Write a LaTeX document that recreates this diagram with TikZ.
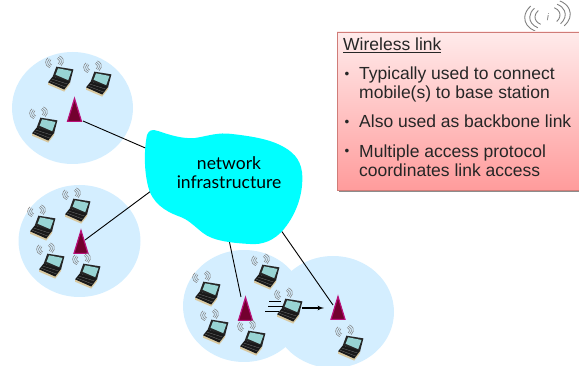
\documentclass[tikz,border=0pt]{standalone}
\usepackage{fontspec}
\setmainfont{Liberation Sans}
\newfontfamily\cloudfont{Lato}
\usetikzlibrary{arrows}
\usetikzlibrary{positioning}
\definecolor{cellblue}{HTML}{D4EEFF}
\definecolor{wavegray}{HTML}{808080}
\definecolor{cloudcyan}{HTML}{00FFFF}
\definecolor{towerfill}{HTML}{73002E}
\definecolor{toweredge}{HTML}{B8107A}
\definecolor{screenteal}{HTML}{98D4D4}
\definecolor{lapcream}{HTML}{D8C8A0}
\definecolor{boxtop}{HTML}{FFEBEB}
\definecolor{boxbottom}{HTML}{FF9C9C}
\definecolor{boxedge}{HTML}{D07C78}
\tikzset{cell/.style = {fill = cellblue, draw = none}}
\tikzset{link/.style = {black, line width = 0.9}}
\tikzset{wavepen/.style = {wavegray, line width = 0.55}}
\tikzset{boxtext/.style = {inner sep = 0, anchor = base west, align = left, font = \fontsize{17.5}{19.6}\selectfont, text = black!85}}
\tikzset{bul/.style = {inner sep = 0, anchor = base west, font = \fontsize{13.5}{13.5}\selectfont, text = black!85}}
\tikzset{waves/.pic = {
    \foreach \r in {0.55, 0.78, 1} {
        \draw [wavepen] (0, 0) ++ (130:{9*\r} and {6.5*\r}) arc [start angle = 130, end angle = 230, x radius = 9*\r, y radius = 6.5*\r];
        \draw [wavepen] (0, 0) ++ (50:{9*\r} and {6.5*\r}) arc [start angle = 50, end angle = -50, x radius = 9*\r, y radius = 6.5*\r];
    }
}}
\tikzset{laptop/.pic = {
    \pic [rotate = 10] at (-6, -15) {waves};
    \fill [black!85] (-4.3, -10.5) -- (11.5, -8) -- (8.3, 4.3) -- (-7.7, -1.3) -- cycle;
    \fill [screenteal] (-2.7, -9) -- (9.7, -6.5) -- (6.7, 2) -- (-5, -3) -- cycle;
    \fill [lapcream] (-12, 4) -- (3, 10.5) -- (8.5, 3.5) -- (8.5, 5.5) -- (3, 12.6) -- (-12, 6.2) -- cycle;
    \fill [black!90] (-7.7, -1.3) -- (8.5, 3.5) -- (3, 10.7) -- (-12, 4) -- cycle;
    \draw [black!55, line width = 0.3] (-8.5, 1) -- (6, 5.6) (-10, 3) -- (4.4, 8.4);
}}
\tikzset{tower/.pic = {
    \fill [draw = toweredge, line width = 1.2, fill = towerfill] (0, -23.5) -- (7, -0.6) -- (-7, -0.6) -- cycle;
}}
\begin{document}
\begin{tikzpicture}[x = 1pt, y = -1pt]
    \useasboundingbox (0, 0) rectangle (579, 366);

    \fill [cell] (72.5, 108) ellipse [x radius = 60.5, y radius = 56];
    \fill [cell] (79.5, 241) ellipse [x radius = 61, y radius = 56];
    \fill [cell] (244, 306) ellipse [x radius = 61, y radius = 56];
    \fill [cell] (333, 312) ellipse [x radius = 61, y radius = 56];

    \coordinate (tower1) at (74.5, 122);
    \coordinate (tower2) at (81, 254);
    \coordinate (tower3) at (245.5, 321);
    \coordinate (tower4) at (338, 320);
    \coordinate (end1) at (83, 121);
    \coordinate (end2) at (85, 240);
    \coordinate (end3) at (241, 297);
    \coordinate (end4) at (333, 305);
    \coordinate (cloud1) at (150, 150);
    \coordinate (cloud2) at (155, 188);
    \coordinate (cloud3) at (228, 235);
    \coordinate (cloud4) at (278, 226);

    \draw [link] (end1) -- (cloud1);
    \draw [link] (end2) -- (cloud2);
    \draw [link] (end3) -- (cloud3);
    \draw [link] (end4) -- (cloud4);

    \fill [cloudcyan] (147, 135) .. controls (149, 130) and (152, 129) .. (158, 131)
        .. controls (170, 135) and (182, 139) .. (195, 138)
        .. controls (208, 136) and (218, 132) .. (232, 134)
        .. controls (250, 136) and (268, 139) .. (280, 145)
        .. controls (292, 151) and (300, 158) .. (302, 172)
        .. controls (304, 192) and (297, 213) .. (284, 229)
        .. controls (274, 241) and (262, 245) .. (250, 244)
        .. controls (232, 243) and (213, 241) .. (203, 233)
        .. controls (194, 226) and (188, 219) .. (178, 216)
        .. controls (165, 211) and (152, 203) .. (148, 186)
        .. controls (144, 170) and (144, 150) .. (147, 135) -- cycle;
    \node (cloudtext) [align = center, inner sep = 0, font = \cloudfont\fontsize{17.5}{19}\selectfont] at (229, 172.5) {network\\infrastructure};

    \pic at (tower1) {tower};
    \pic at (tower2) {tower};
    \pic at (tower3) {tower};
    \pic at (tower4) {tower};

    \foreach \x/\y in {61/78, 99/83, 45/129, 78/210, 43/227, 52/265, 88/275, 208/293, 267/276, 216/331, 253/342, 290/310, 351/347} {
        \pic [scale = 1.08] at (\x, \y) {laptop};
    }

    \coordinate (lap) at (302, 308);
    \coordinate (ap) at (324, 308);
    \draw [-latex', line width = 1.2] (lap) -- (ap);
    \coordinate (m1a) at (269, 301);
    \coordinate (m1b) at (281, 301);
    \coordinate (m2a) at (268, 306);
    \coordinate (m2b) at (283, 306);
    \coordinate (m3a) at (265, 311);
    \coordinate (m3b) at (279, 311);
    \draw [line width = 0.7] (m1a) -- (m1b);
    \draw [line width = 0.7] (m2a) -- (m2b);
    \draw [line width = 0.7] (m3a) -- (m3b);

    \pic [scale = 2.55, rotate = 10, wavepen/.style = {wavegray, line width = 0.9}] at (547.5, 16) {waves};
    \node (wifi) [inner sep = 0, font = \fontsize{10}{10}\selectfont, text = wavegray, rotate = -10] at (548, 17) {i};

    \fill [black!45] (338.5, 34) rectangle (581, 192);
    \shade [top color = boxtop, bottom color = boxbottom, draw = boxedge, line width = 0.8] (337, 32) rectangle (581, 190);

    \node (title) [boxtext] at (343, 51) {\underline{Wireless link}};
    \node (bul1) [bul] at (344.5, 79) {•};
    \node (item1) [boxtext] at (359, 99) {Typically used to connect\\mobile(s) to base station};
    \node (bul2) [bul] at (344.5, 127) {•};
    \node (item2) [boxtext] at (359, 128) {Also used as backbone link};
    \node (bul3) [bul] at (344.5, 156) {•};
    \node (item3) [boxtext] at (359, 177) {Multiple access protocol\\coordinates link access};
\end{tikzpicture}
\end{document}
